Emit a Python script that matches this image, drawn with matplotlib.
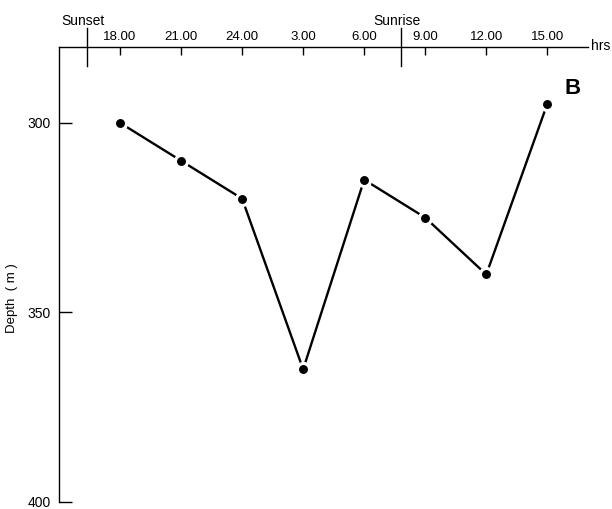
import numpy as np
import matplotlib
matplotlib.use('Agg')
import matplotlib.pyplot as plt

plt.rcParams['font.family'] = ['Liberation Sans', 'DejaVu Sans']

# hours counted on from 18.00 of the first day
hours = [18, 21, 24, 27, 30, 33, 36, 39]
depth = [300, 310, 320, 365, 315, 325, 340, 295]
tick_labels = ['18.00', '21.00', '24.00', '3.00', '6.00', '9.00', '12.00', '15.00']
depth_ticks = [300, 350, 400]
sunset = 16.4
sunrise = 31.8

fig = plt.figure(figsize=(6.12, 5.09), dpi=100)
ax = fig.add_axes([59/612, 1-502/509, (588-59)/612, (502-47)/509])

ax.plot(hours, depth, color='black', lw=1.7, zorder=1)
ax.plot(hours, depth, 'o', ms=10, color='white', mec='white', zorder=2)
ax.plot(hours, depth, 'o', ms=5.4, color='black', zorder=3)

ax.set_xlim(15, 41)
ax.set_ylim(400, 280)

for s in ['right', 'bottom']:
    ax.spines[s].set_visible(False)
for s in ['left', 'top']:
    ax.spines[s].set_linewidth(1.0)

ax.xaxis.tick_top()
ax.set_xticks(hours)
ax.set_xticklabels(tick_labels, fontsize=9.5)
ax.tick_params(axis='x', direction='in', length=6, width=1, pad=3)
ax.set_yticks(depth_ticks)
ax.set_yticklabels([str(d) for d in depth_ticks], fontsize=10)
ax.tick_params(axis='y', direction='in', length=9, width=1, pad=6)

# sunset / sunrise markers crossing the time axis
for xv, name in [(sunset, 'Sunset'), (sunrise, 'Sunrise')]:
    ax.axvline(xv, ymin=1-19/455, ymax=1+19/455, color='black', lw=1, clip_on=False)
    ax.text(xv - 0.2, 1.058, name, transform=ax.get_xaxis_transform(),
            ha='center', va='center', fontsize=10)

fig.text(591/612, 1-46/509, 'hrs', ha='left', va='center', fontsize=10)
fig.text(565/612, 1-88/509, 'B', ha='left', va='center', fontsize=16, fontweight='bold')
fig.text(12/612, 1-298/509, 'Depth  ( m )', rotation=90, ha='center', va='center', fontsize=9.5)

fig.savefig('out.png', dpi=100)
